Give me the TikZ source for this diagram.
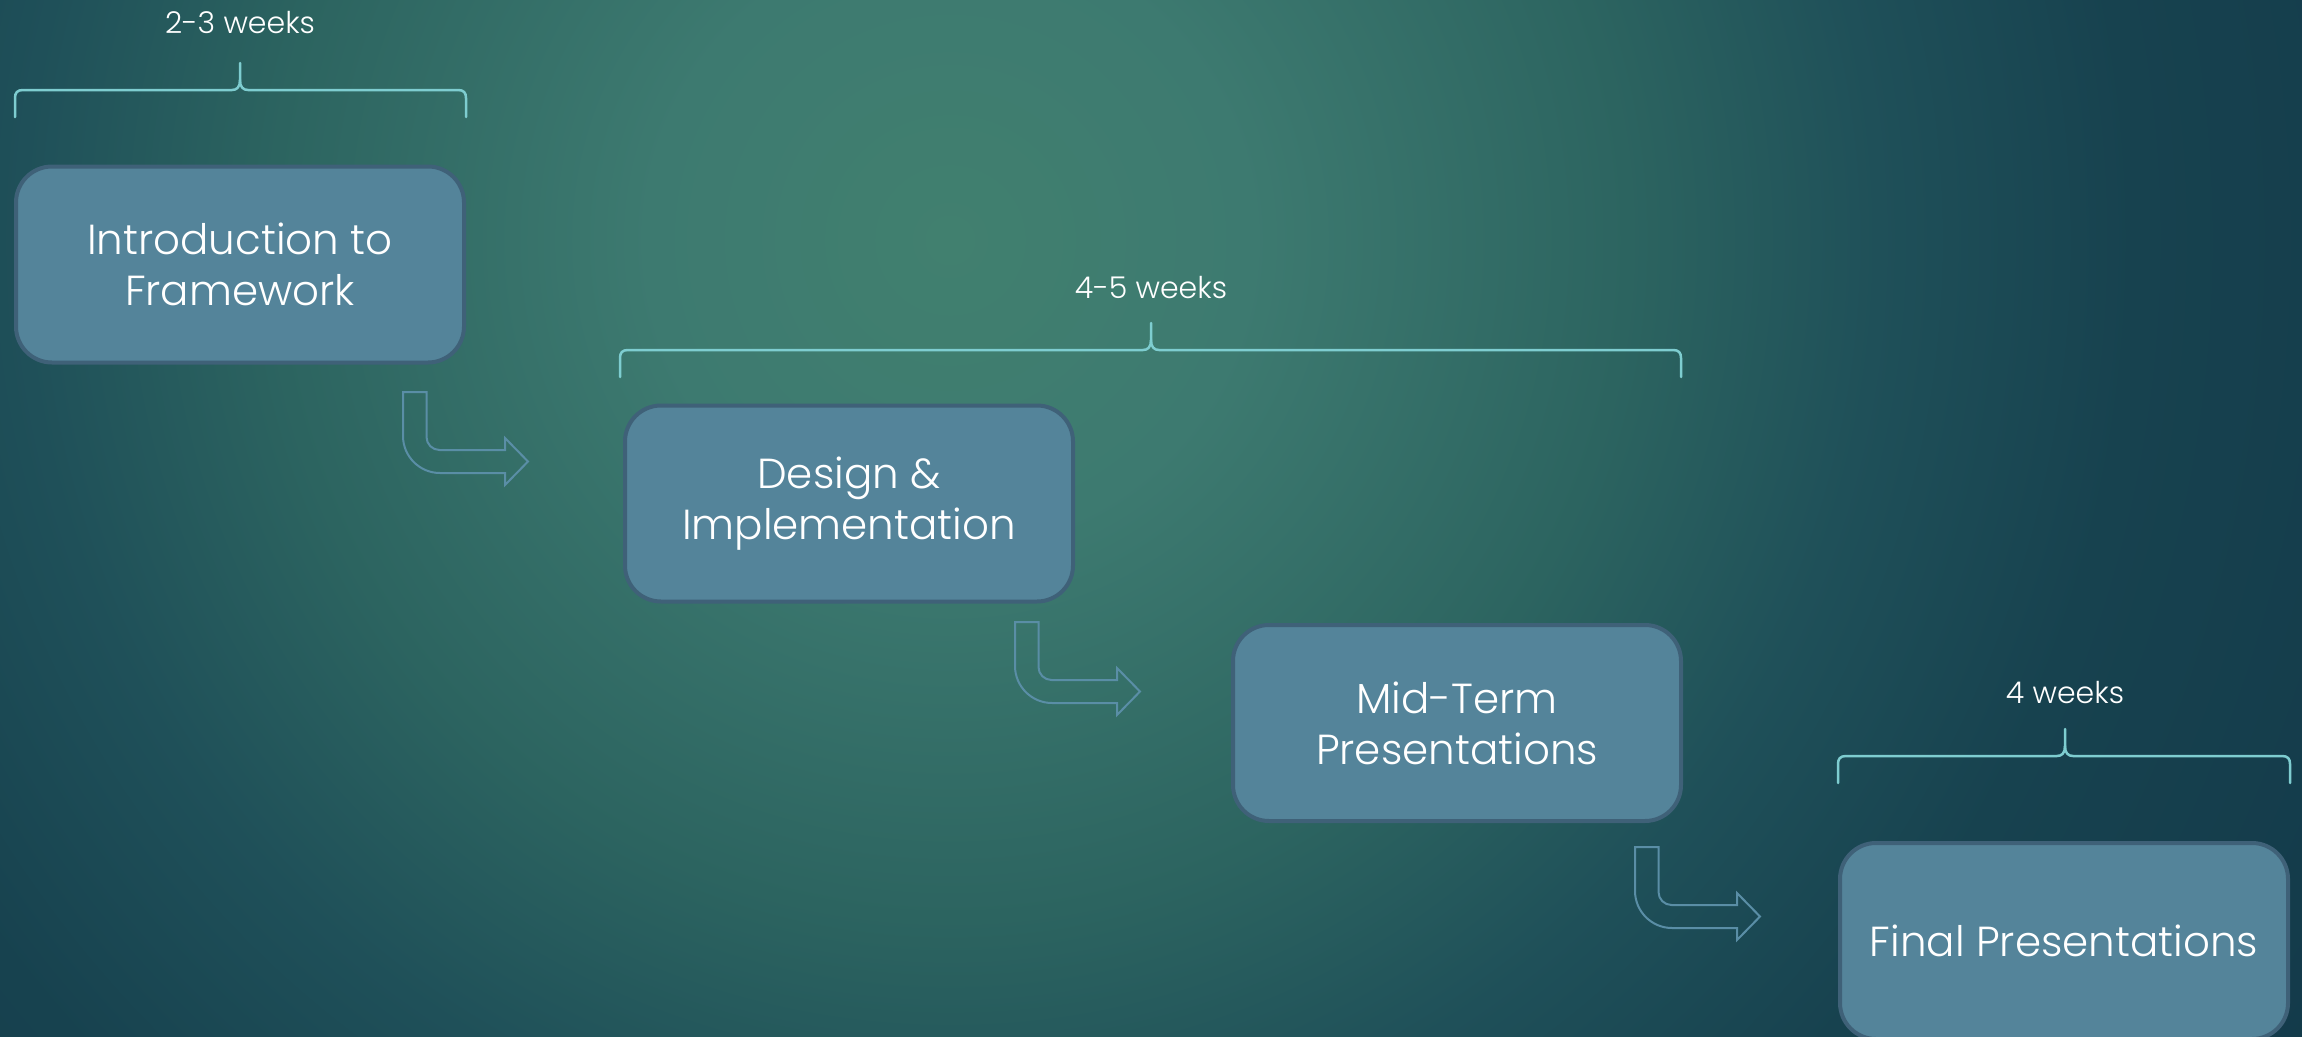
\documentclass[tikz,border=0pt]{standalone}
\usepackage{fontspec}
\setmainfont{Poppins}[UprightFont={* Light}]
\usetikzlibrary{calc}

\definecolor{glowc}{HTML}{41806F}
\definecolor{glowb}{HTML}{3D7A70}
\definecolor{glowm}{HTML}{2C6460}
\definecolor{glowd}{HTML}{1F5059}
\definecolor{glowe}{HTML}{17424F}
\definecolor{edgec}{HTML}{133A4A}
\definecolor{boxfill}{HTML}{54849A}
\definecolor{boxline}{HTML}{3F6178}
\definecolor{arrowc}{HTML}{5A8EA6}
\definecolor{bracec}{HTML}{7ECDD0}

% soft teal glow behind the slide
\pgfdeclareradialshading{bgglow}{\pgfpointorigin}{%
  color(0bp)=(glowc); color(4.7bp)=(glowb); color(10.6bp)=(glowm);
  color(14.5bp)=(glowd); color(18.5bp)=(glowe); color(25bp)=(edgec);
  color(50bp)=(edgec)}

\tikzset{
  stage/.style={draw=boxline, line width=4pt, fill=boxfill, rounded corners=36pt,
    minimum width=448pt, minimum height=196pt, inner sep=0pt,
    text=white, align=center, font=\fontsize{42}{51}\selectfont},
  weeklabel/.style={text=white, inner sep=0pt, font=\fontsize{30}{34}\selectfont},
  bracket/.style={draw=bracec, line width=2.5pt, line cap=round, line join=round},
  arrowline/.style={draw=arrowc, line width=2pt, line join=miter},
  bentarrow/.pic={
    \path[arrowline] (0,0) -- (23.5,0) -- (23.5,45)
      .. controls (23.5,52.2) and (29.3,58) .. (36.5,58) -- (102,58)
      -- (102,46) -- (125,69.5) -- (102,93) -- (102,81) -- (37,81)
      .. controls (16.6,81) and (0,64.4) .. (0,44) -- cycle;
  }
}

% curly bracket: left end, right end, tip x, line y
\newcommand{\spanbrace}[4]{%
  \path[bracket] (#1,#4+27) -- (#1,#4+8) .. controls (#1,#4+3) and (#1+2,#4) .. (#1+8,#4)
    -- (#3-8,#4) .. controls (#3-3,#4) and (#3,#4-3) .. (#3,#4-10) -- (#3,#4-27);
  \path[bracket] (#3,#4-10) .. controls (#3,#4-3) and (#3+3,#4) .. (#3+8,#4)
    -- (#2-8,#4) .. controls (#2-2,#4) and (#2,#4+3) .. (#2,#4+8) -- (#2,#4+27);
}

\begin{document}
\begin{tikzpicture}[x=1pt, y=-1pt]
  \useasboundingbox (0,0) rectangle (2302,1036);
  \begin{scope}
    \clip (0,0) rectangle (2302,1036);
    \fill[edgec] (0,0) rectangle (2302,1036);
    \shade[shading=bgglow] (950,240) circle (1600);
  \end{scope}

  % stages
  \node[stage] (intro)  at (240,264.5) {Introduction to\\Framework};
  \node[stage] (design) at (849,503.5) {Design \&\\Implementation};
  \node[stage] (mid)    at (1457,723)  {Mid-Term\\Presentations};
  \node[stage] (final)  at (2064,941)  {Final Presentations};

  % bent arrows between stages
  \pic at (403,392)  {bentarrow};
  \pic at (1015,622) {bentarrow};
  \pic at (1635,847) {bentarrow};

  % duration brackets
  \spanbrace{15}{466}{240}{90}
  \spanbrace{620}{1681}{1151}{350}
  \spanbrace{1838}{2290}{2065}{756}

  \node[weeklabel] (w1) at (240,23)   {2-3 weeks};
  \node[weeklabel] (w2) at (1151,288) {4-5 weeks};
  \node[weeklabel] (w3) at (2065,693) {4 weeks};
\end{tikzpicture}
\end{document}
